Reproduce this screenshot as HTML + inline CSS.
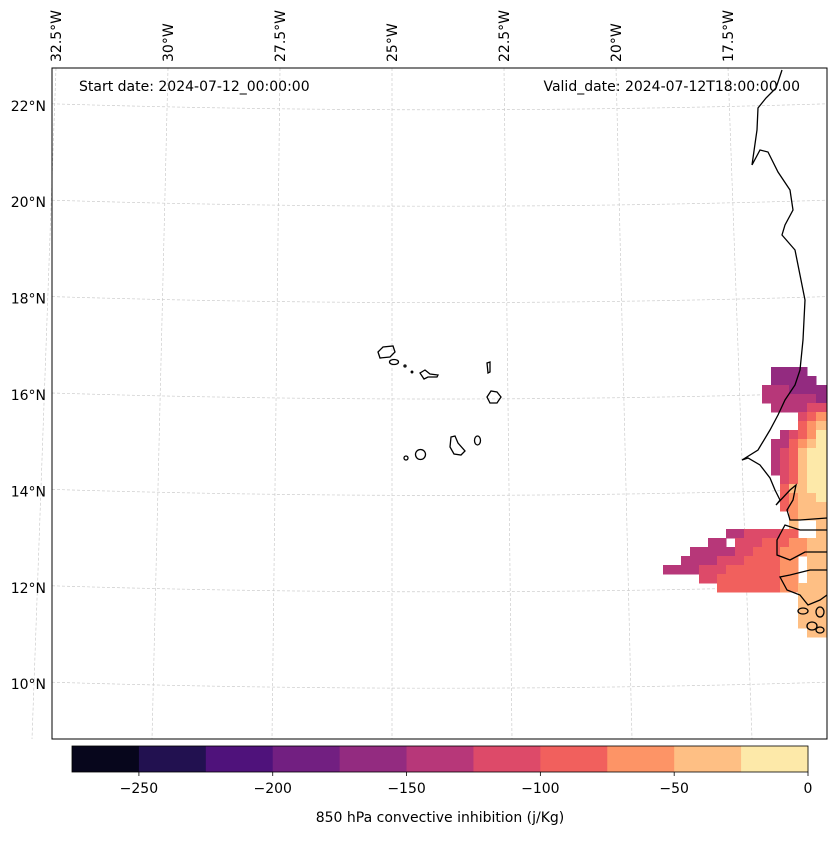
<!DOCTYPE html>
<html><head><meta charset="utf-8"><style>
body{margin:0;background:#fff;}
svg text{font-family:"DejaVu Sans","Liberation Sans",sans-serif;font-size:14px;fill:#000;}
</style></head><body>
<svg id="chart" width="837" height="836" xmlns="http://www.w3.org/2000/svg">
<defs><clipPath id="mapclip"><rect x="52" y="68" width="775" height="671"/></clipPath></defs>
<g id="grid"></g>
<g id="field" clip-path="url(#mapclip)"></g>
<g clip-path="url(#mapclip)" fill="none" stroke="#000" stroke-width="1.3">
<path d="M782,70 L776,88 L766,98 L758,108 L757,130 L752,165 L760,150 L768,152 L778,172 L790,190 L793,210 L785,225 L782,235 L795,250 L800,275 L805,300 L803,340 L800,370 L795,385 L785,400 L778,415 L770,430 L758,450 L742,460 L748,458 L760,465 L770,478 L775,490 L780,500 L776,505 L790,490 L796,485 L793,500 L787,510 L790,520 L800,520 L827,518"/>
<path d="M827,530 L800,530 L785,525 L777,540 L777,555 L790,560 L805,552 L827,552"/>
<path d="M827,570 L810,570 L790,575 L780,577 L787,590 L800,595 L808,605 L820,600 L827,595"/>
<ellipse cx="803" cy="611" rx="5" ry="3"/><ellipse cx="812" cy="626" rx="5" ry="4"/><ellipse cx="820" cy="630" rx="4" ry="3"/><ellipse cx="820" cy="612" rx="4" ry="5"/>
</g>
<g fill="none" stroke="#000" stroke-width="1.3">
<path d="M378,352 L383,347 L393,346 L395,352 L390,357 L380,358 Z"/>
<ellipse cx="394" cy="362" rx="4.5" ry="2.5"/>
<circle cx="405" cy="366" r="1"/><circle cx="412" cy="372" r="0.8"/>
<path d="M420,373 L425,370 L430,374 L438,375 L437,377 L428,377 L424,379 Z"/>
<path d="M487,363 L490,362 L490,372 L488,373 Z"/>
<path d="M487,397 L491,391 L497,392 L501,397 L497,403 L490,403 Z"/>
<ellipse cx="477.5" cy="440.5" rx="3" ry="4.5"/>
<path d="M451,437 L455,436 L458,443 L465,451 L461,455 L454,454 L450,447 Z"/>
<ellipse cx="420.5" cy="454.5" rx="5" ry="5"/>
<circle cx="406" cy="458" r="2"/>
</g>
<rect x="52" y="68" width="775" height="671" fill="none" stroke="#000" stroke-width="1"/>
<g id="lab"></g>
<text x="79" y="91">Start date: 2024-07-12_00:00:00</text>
<text x="800" y="91" text-anchor="end">Valid_date: 2024-07-12T18:00:00.00</text>
<g id="cbar"></g>
<text x="440" y="822" text-anchor="middle">850 hPa convective inhibition (j/Kg)</text>
</svg>
<script>
const levelBounds=[-275,-250,-225,-200,-175,-150,-125,-100,-75,-50,-25,0];
const levelColors=["#07061c","#221150","#4f127b","#721f81","#932b80","#b73779","#dd4a69","#f1605d","#fd9466","#febf84","#fde9a9"];
const tickValues=[-250,-200,-150,-100,-50,0];
const latLabels=["22°N","20°N","18°N","16°N","14°N","12°N","10°N"];
const latValues=[22,20,18,16,14,12,10];
const lonLabels=["32.5°W","30°W","27.5°W","25°W","22.5°W","20°W","17.5°W"];
const lonValues=[-32.5,-30,-27.5,-25,-22.5,-20,-17.5];
// field grid: each char = level index (0-9, a=10), '.' = no data; rows from north to south
const fieldRows=[
"............4444..",
"............44444.",
"...........5554444",
"...........5555554",
"............555566",
"...............678",
"...............789",
".............5678a",
"............55789a",
"............5679aa",
"............5679aa",
"............5679aa",
".............679aa",
".............799aa",
".............7899a",
".............78999",
"..............8999",
"..............9..9",
".......55666677..9",
".....55.6667778899",
"...555556677788899",
"..5555666777788.99",
"555566677777788.99",
"....66777777788.99",
"......777777788999",
"...............999",
"...............999",
"...............999",
"...............999",
"................99"];
const NS="http://www.w3.org/2000/svg";
function mk(t,a,p){const e=document.createElementNS(NS,t);for(const k in a)e.setAttribute(k,a[k]);p.appendChild(e);return e;}
const latY=lat=>395-(lat-16)*48.2;
const lonXTop=lon=>392+(lon+25)*44.8;
const lonXBot=lon=>392+(lon+25)*48.0;
const grid=document.getElementById('grid');
latValues.forEach((v,i)=>{
  const y=latY(v);
  const p=mk('path',{d:`M52,${y-2} Q440,${y+10} 827,${y-2}`,fill:'none',stroke:'#ccc','stroke-width':0.7,'stroke-dasharray':'3,2'},grid);
  
  
  const t=mk('text',{x:46,y:y+5,'text-anchor':'end'},document.getElementById('lab'));
  t.textContent=latLabels[i];
  
  
});
lonValues.forEach((v,i)=>{
  const x1=lonXTop(v),x2=lonXBot(v);
  const p=mk('line',{x1:x1,y1:68,x2:x2,y2:739,stroke:'#ccc','stroke-width':0.7,'stroke-dasharray':'3,2'},grid);
  
  
  const t=mk('text',{x:0,y:0,transform:`translate(${x1+5},62) rotate(-90)`},document.getElementById('lab'));
  t.textContent=lonLabels[i];
  
  
});
const field=document.getElementById('field');
const cx0=663,cy0=367,cw=9,ch=9;
fieldRows.forEach((row,r)=>{
  for(let c=0;c<row.length;c++){
    const ch_=row[c]; if(ch_==='.')continue;
    const lv=parseInt(ch_,16);
    const rc=mk('rect',{x:cx0+c*cw,y:cy0+r*ch,width:c===row.length-1?cw+4:cw+0.5,height:ch+0.5,fill:levelColors[lv]},field);
    
    
  }
});
const cb=document.getElementById('cbar');
const cbX=v=>72+(v-levelBounds[0])/(levelBounds[levelBounds.length-1]-levelBounds[0])*736;
levelColors.forEach((col,i)=>{
  const r=mk('rect',{x:cbX(levelBounds[i]),y:746,width:cbX(levelBounds[i+1])-cbX(levelBounds[i])+0.5,height:26,fill:col},cb);
  
  
});
mk('rect',{x:72,y:746,width:736,height:26,fill:'none',stroke:'#000','stroke-width':0.8},cb);
tickValues.forEach(v=>{
  const x=cbX(v);
  mk('line',{x1:x,y1:772,x2:x,y2:776,stroke:'#000','stroke-width':0.8},cb);
  const t=mk('text',{x:x,y:793,'text-anchor':'middle'},cb);
  t.textContent=v<0?'\u2212'+Math.abs(v):String(v);
  
  
});
</script>
</body></html>
